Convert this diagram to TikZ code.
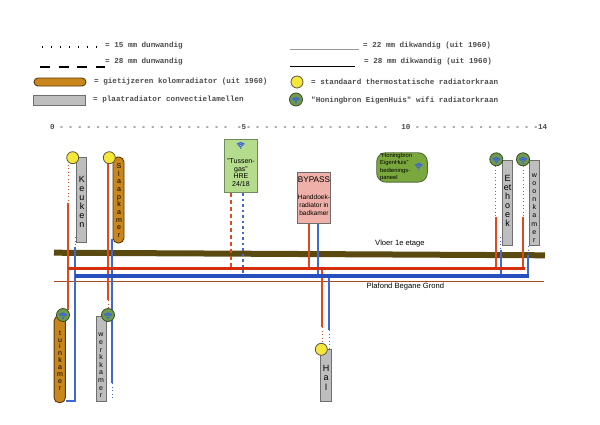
\documentclass[tikz,border=0pt]{standalone}
\usepackage{fontspec}
\setmainfont{Liberation Sans}
\newfontfamily\legendfont{Liberation Mono}
\definecolor{pipered}{HTML}{E0481E}
\definecolor{busred}{HTML}{D42E0C}
\definecolor{pipeblue}{HTML}{4068D0}
\definecolor{busblue}{HTML}{2850BC}
\definecolor{floorbrown}{HTML}{5A4A10}
\definecolor{ceilbrown}{HTML}{A84A22}
\definecolor{cast}{HTML}{C8861C}
\definecolor{castedge}{HTML}{5A3A0A}
\definecolor{plate}{HTML}{BEBEBE}
\definecolor{plateedge}{HTML}{6E6E6E}
\definecolor{valveyellow}{HTML}{F5E63A}
\definecolor{valvegreen}{HTML}{6F9A4C}
\definecolor{wifiblue}{HTML}{3F66D8}
\definecolor{boilerfill}{HTML}{B5DC8C}
\definecolor{boileredge}{HTML}{6F8A5C}
\definecolor{bypassfill}{HTML}{EEB0A8}
\definecolor{panelfill}{HTML}{7AA83C}
\definecolor{paneledge}{HTML}{556B3A}
\tikzset{
  legendtext/.style={anchor=west,inner sep=0pt,font=\legendfont\bfseries\fontsize{7.6}{9}\selectfont,text=black!70},
  platerad/.style={draw=plateedge,fill=plate,line width=.9pt,inner sep=0pt,minimum width=#1},
  castrad/.style={draw=castedge,fill=cast,line width=.9pt,inner sep=0pt,rounded corners=5pt,minimum width=#1},
  yellowvalve/.style={circle,draw=black!75!yellow,fill=valveyellow,line width=.8pt,minimum size=12pt,inner sep=0pt},
  greenvalve/.style={circle,draw=black!50!valvegreen,fill=valvegreen,line width=.8pt,minimum size=13pt,inner sep=0pt},
  roomlabel/.style={inner sep=0pt,align=center},
  redpipe/.style={draw=pipered,line width=2pt},
  bluepipe/.style={draw=pipeblue,line width=2pt},
  reddots/.style={draw=pipered,line width=.9pt,dash pattern=on 1pt off 2.5pt},
  bluedots/.style={draw=pipeblue,line width=.9pt,dash pattern=on 1pt off 2.5pt},
  wifi/.pic={
    \draw[wifiblue,line width=1.3pt] (225:1.8) arc[start angle=225,end angle=315,radius=1.8];
    \draw[wifiblue,line width=1.3pt] (225:3.6) arc[start angle=225,end angle=315,radius=3.6];
    \draw[wifiblue,line width=1.3pt] (225:5.4) arc[start angle=225,end angle=315,radius=5.4];
    \fill[wifiblue] (0,0) circle[radius=.9];
  }
}
\begin{document}
\begin{tikzpicture}[x=1pt,y=-1pt]
\useasboundingbox (0,0) rectangle (600,424);
\fill[white] (0,0) rectangle (600,424);

% legend
\coordinate (la1) at (42,47); \coordinate (la2) at (101,47);
\draw[line width=1.1pt,dash pattern=on 1pt off 8pt] (la1) -- (la2);
\node[legendtext] (lt1) at (105,45.5) {= 15 mm dunwandig};
\coordinate (lb1) at (40,66.7); \coordinate (lb2) at (105,66.7);
\draw[line width=1.6pt,dash pattern=on 10pt off 8.5pt] (lb1) -- (lb2);
\node[legendtext] (lt2) at (105,62) {= 28 mm dunwandig};
\node[castrad=52pt,minimum height=8pt,rounded corners=4pt] (lcast) at (60,82) {};
\node[legendtext] (lt3) at (94,82) {= gietijzeren kolomradiator (uit 1960)};
\node[platerad=52pt,minimum height=9.5pt] (lplate) at (59,100.3) {};
\node[legendtext] (lt4) at (93,100) {= plaatradiator convectielamellen};
\coordinate (lc1) at (290,49); \coordinate (lc2) at (359,49);
\draw[gray!80,line width=.9pt] (lc1) -- (lc2);
\node[legendtext] (lt5) at (363,45.5) {= 22 mm dikwandig (uit 1960)};
\coordinate (ld1) at (290,66.7); \coordinate (ld2) at (355,66.7);
\draw[line width=1.2pt] (ld1) -- (ld2);
\node[legendtext] (lt6) at (364,62) {= 28 mm dikwandig (uit 1960)};
\node[yellowvalve] (lyellow) at (297,82) {};
\node[legendtext] (lt7) at (311,82) {= standaard thermostatische radiatorkraan};
\node[greenvalve] (lgreen) at (296,99.5) {};
\pic at (296,103) {wifi};
\node[legendtext] (lt8) at (311,100) {"Honingbron EigenHuis" wifi radiatorkraan};

% scale
\node[legendtext] (scale) at (50,127) {0~-~-~-~-~-~-~-~-~-~-~-~-~-~-~-~-~-~-~-~~-5-~-~-~-~-~-~-~-~-~-~-~-~-~-~-~-~~~10~-~-~-~-~-~-~-~-~-~-~-~-~-~-14};

% floor and ceiling
\coordinate (fl1) at (54,252.7); \coordinate (fl2) at (545,255.3);
\draw[floorbrown,line width=6pt] (fl1) -- (fl2);
\coordinate (cl1) at (54,281); \coordinate (cl2) at (544,281);
\draw[ceilbrown,line width=.9pt] (cl1) -- (cl2);
\node[inner sep=0pt,anchor=west,font=\fontsize{7.6}{9}\selectfont] (vloer) at (375,244) {Vloer 1e etage};
\node[inner sep=0pt,anchor=west,font=\fontsize{7.6}{9}\selectfont] (plafond) at (366.5,287) {Plafond Begane Grond};

% buses
\coordinate (rb1) at (68.3,268.3); \coordinate (rb2) at (524.5,268.3);
\coordinate (bb1) at (75,276); \coordinate (bb2) at (528.5,276);

% radiators
\node[platerad=10pt,minimum height=85pt] (keuken) at (81.7,199.5) {};
\node[castrad=11pt,minimum height=86pt] (slaap) at (118.5,200) {};
\node[platerad=10pt,minimum height=84.6pt] (eethoek) at (507.7,203) {};
\node[platerad=10pt,minimum height=84.4pt] (woon) at (534.3,202.8) {};
\node[castrad=11.3pt,minimum height=86.7pt] (tuin) at (59.7,359.3) {};
\node[platerad=10.7pt,minimum height=85.7pt] (werk) at (101.3,358.8) {};
\node[platerad=10.3pt,minimum height=52.3pt] (hal) at (325.8,375.2) {};

% valves (positions; drawn later on top)
\coordinate (vk) at (72.7,157.7);
\coordinate (vs) at (109.3,157.7);
\coordinate (ve) at (496.3,159.3);
\coordinate (vw) at (523,159.3);
\coordinate (vt) at (63,315);
\coordinate (vr) at (108,315);
\coordinate (vh) at (321.3,349.3);

% boiler, bypass, panel
\node[draw=boileredge,fill=boilerfill,line width=.9pt,minimum width=33.4pt,minimum height=53.7pt,inner sep=0pt] (boiler) at (241,165.8) {};
\pic at (240.7,148) {wifi};
\node[roomlabel,font=\fontsize{7}{7.7}\selectfont] (boilertext) at (241,172.5) {"Tussen-\\gas"\\HRE\\24/18};
\node[draw=plateedge,fill=bypassfill,line width=.9pt,minimum width=32.6pt,minimum height=50.6pt,inner sep=0pt] (bypass) at (314,198) {};
\node[inner sep=0pt,font=\fontsize{8.2}{10}\selectfont] (bypasstext) at (314,179.3) {BYPASS};
\node[roomlabel,font=\fontsize{6.6}{7.9}\selectfont] (towel) at (314,205) {Handdoek-\\radiator in\\badkamer};
\node[draw=paneledge,fill=panelfill,line width=.9pt,rounded corners=9pt,minimum width=50.6pt,minimum height=29.3pt,inner sep=0pt] (panel) at (402,167.4) {};
\node[roomlabel,align=left,anchor=west,font=\fontsize{5.8}{7.2}\selectfont] (paneltext) at (380,167) {"Honingbron\\EigenHuis"\\bedienings-\\paneel};
\pic at (418.7,169) {wifi};

% red pipes
\coordinate (kr) at (68.3,203);
\draw[reddots] (kr |- vk) -- (kr);
\coordinate (kre) at (68.3,310);
\draw[redpipe] (kr) -- (kre);
\coordinate (sr) at (108,327);
\coordinate (sr2) at (108,310);
\draw[redpipe] (sr |- vs) -- (sr |- rb1) -- (108,300);
\draw[draw=pipered,line width=1pt,dash pattern=on 1pt off 2.5pt] (108,300) -- (sr2);
\coordinate (er) at (495.7,217);
\draw[reddots] (er |- ve) -- (er);
\draw[redpipe] (er) -- (er |- rb1);
\coordinate (wr) at (523.3,217);
\draw[reddots] (wr |- vw) -- (wr);
\draw[redpipe] (wr) -- (wr |- rb1);
\coordinate (br) at (230.7,200);
\draw[draw=pipered,line width=2.2pt,dash pattern=on 4pt off 3pt] (br |- boiler.south) -- (br |- rb1);
\coordinate (pr) at (309,200);
\draw[redpipe] (pr |- bypass.south) -- (pr |- rb1);
\coordinate (hr) at (322,327);
\draw[redpipe] (hr |- rb1) -- (hr);
\draw[reddots] (hr) -- (hr |- vh);

% blue pipes
\coordinate (kb) at (75,247);
\draw[bluedots] (75,237) -- (kb);
\coordinate (tb) at (75,400.7);
\draw[bluepipe] (kb) -- (tb) -- (tb -| tuin.east);
\coordinate (sb) at (112,383);
\draw[bluepipe] (112,239) -- (sb);
\draw[bluedots] (sb) -- (112,400);
\coordinate (eb) at (500.7,250);
\draw[bluedots] (500.7,237) -- (eb);
\draw[bluepipe] (eb) -- (eb |- bb1);
\coordinate (wb) at (528,255);
\draw[bluedots] (528,246) -- (wb);
\draw[bluepipe] (wb) -- (wb |- bb1);
\coordinate (bb) at (243.3,200);
\draw[draw=pipeblue,line width=2pt,dash pattern=on 2.5pt off 3pt] (bb |- boiler.south) -- (bb |- bb1);
\coordinate (pb) at (317.7,200);
\draw[bluepipe] (pb |- bypass.south) -- (pb |- bb1);
\coordinate (hb) at (329.3,330);
\draw[bluepipe] (hb |- bb1) -- (hb);
\draw[bluedots] (hb) -- (hb |- hal.north);

% main buses over the risers
\draw[busred,line width=3.4pt] (rb1) -- (rb2);
\draw[busblue,line width=3.4pt] (bb1) -- (bb2);

% valves
\node[yellowvalve] (valvek) at (vk) {};
\node[yellowvalve] (valves) at (vs) {};
\node[greenvalve] (valvee) at (ve) {};
\pic at (496.3,163) {wifi};
\node[greenvalve] (valvew) at (vw) {};
\pic at (523,163) {wifi};
\node[greenvalve] (valvet) at (vt) {};
\pic at (63,318.5) {wifi};
\node[greenvalve] (valver) at (vr) {};
\pic at (108,318.5) {wifi};
\node[yellowvalve] (valveh) at (vh) {};

% radiator labels
\node[roomlabel,font=\fontsize{9}{9}\selectfont] (lk) at (82,201.5) {K\\e\\u\\k\\e\\n};
\node[roomlabel,font=\fontsize{7}{7.7}\selectfont] (ls) at (119,200.5) {S\\l\\a\\a\\p\\k\\a\\m\\e\\r};
\node[roomlabel,font=\fontsize{9}{9}\selectfont] (le) at (507.5,200.5) {E\\et\\h\\o\\e\\k};
\node[roomlabel,font=\fontsize{7}{8.1}\selectfont] (lw) at (534.3,208) {w\\o\\o\\n\\k\\a\\m\\e\\r};
\node[roomlabel,font=\fontsize{7}{6.9}\selectfont] (lt) at (60,360.5) {t\\u\\i\\n\\k\\a\\m\\e\\r};
\node[roomlabel,font=\fontsize{7}{7.6}\selectfont] (lr) at (101,365.5) {w\\e\\r\\k\\k\\a\\m\\e\\r};
\node[roomlabel,font=\fontsize{9}{9.5}\selectfont] (lh) at (326,377.5) {H\\a\\l};
\end{tikzpicture}
\end{document}
